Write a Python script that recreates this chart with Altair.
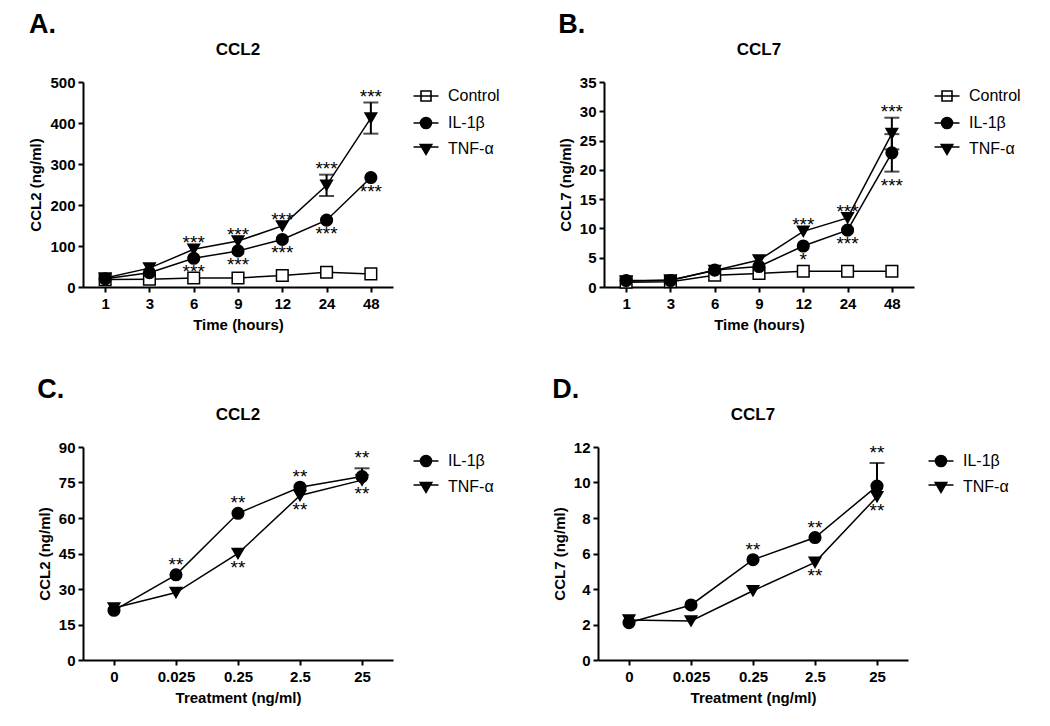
import altair as alt
import pandas as pd

FONT = "Liberation Sans"
SERIES = ["Control", "IL-1β", "TNF-α"]

# ---------------- Panel A: CCL2 time course ----------------
a_x = ["1", "3", "6", "9", "12", "24", "48"]
a_control = [18, 19, 22, 22, 28, 36, 32]
a_il1b = [20, 35, 70, 88, 116, 163, 267]
a_tnfa = [22, 46, 92, 112, 149, 248, 412]
a_il1b_err = [0, 0, 0, 0, 0, 0, 0]
a_tnfa_err = [0, 0, 0, 0, 0, 26, 38]
a_il1b_stars = ["", "", "***", "***", "***", "***", "***"]
a_tnfa_stars = ["", "", "***", "***", "***", "***", "***"]

# ---------------- Panel B: CCL7 time course ----------------
b_x = ["1", "3", "6", "9", "12", "24", "48"]
b_control = [0.8, 0.9, 2.0, 2.3, 2.7, 2.7, 2.7]
b_il1b = [1.1, 1.1, 2.9, 3.5, 7.0, 9.7, 22.9]
b_tnfa = [1.0, 1.2, 2.8, 4.6, 9.5, 11.8, 26.2]
b_il1b_err = [0, 0, 0, 0, 0, 0, 3.2]
b_tnfa_err = [0, 0, 0, 0, 0, 0, 2.7]
b_il1b_stars = ["", "", "", "", "*", "***", "***"]
b_tnfa_stars = ["", "", "", "", "***", "***", "***"]

# ---------------- Panel C: CCL2 dose response ----------------
c_x = ["0", "0.025", "0.25", "2.5", "25"]
c_il1b = [21, 36, 62, 73, 77.5]
c_tnfa = [22, 28.5, 45, 69.5, 76]
c_il1b_err_up = [0, 0, 0, 0, 3.5]
c_tnfa_err_up = [0, 0, 0, 0, 0]
c_il1b_stars = ["", "**", "**", "**", "**"]
c_tnfa_stars = ["", "", "**", "**", "**"]

# ---------------- Panel D: CCL7 dose response ----------------
d_x = ["0", "0.025", "0.25", "2.5", "25"]
d_il1b = [2.1, 3.1, 5.65, 6.9, 9.8]
d_tnfa = [2.25, 2.2, 3.9, 5.5, 9.2]
d_il1b_err_up = [0, 0, 0, 0, 1.3]
d_tnfa_err_up = [0, 0, 0, 0, 0]
d_il1b_stars = ["", "", "**", "**", "**"]
d_tnfa_stars = ["", "", "", "**", "**"]

SHAPES = {"Control": "square", "IL-1β": "circle", "TNF-α": "triangle-down"}
FILLS = {"Control": "white", "IL-1β": "black", "TNF-α": "black"}
LEGEND_PATHS = {
    "Control": "M-2.5,0H2.5M-1,-1H1V1H-1Z",
    "IL-1β": "M-2.5,0H2.5M-1.1,0A1.1,1.1 0 1,0 1.1,0A1.1,1.1 0 1,0 -1.1,0Z",
    "TNF-α": "M-2.5,-0.4H2.5M-1.15,-0.9L1.15,-0.9L0,1.1Z",
}


def build_df(xs, series_vals):
    rows = []
    for name, vals, up, dn, stars, pos in series_vals:
        for i, (xv, v, eu, ed, s) in enumerate(zip(xs, vals, up, dn, stars)):
            rows.append({"x": xv, "xi": i, "series": name, "value": v,
                         "err": eu + ed, "hi": v + eu, "lo": v - ed,
                         "star": s, "pos": pos})
    return pd.DataFrame(rows)


def panel(df, xs, series, ytitle, xtitle, ymax, ystep, title, label, height, above_dy):
    ticks = [ystep * k for k in range(int(round(ymax / ystep)) + 1)]
    x = alt.X("x:O", sort=xs, title=xtitle,
              scale=alt.Scale(type="point", padding=0.5),
              axis=alt.Axis(labelAngle=0, titlePadding=6, labelPadding=4))
    yscale = alt.Scale(domain=[0, ymax], nice=False, zero=True)
    yaxis = alt.Axis(values=ticks, titlePadding=6, labelPadding=3)

    def Y(field):
        return alt.Y(field, title=ytitle, scale=yscale, axis=yaxis)

    base = alt.Chart(df)
    lines = base.mark_line(color="black", strokeWidth=1.5).encode(
        x=x, y=Y("value:Q"), detail="series:N", order="xi:Q")
    eb = base.transform_filter("datum.err > 0")
    rule = eb.mark_rule(color="black", strokeWidth=2).encode(
        x=x, y=Y("lo:Q"), y2="hi:Q")
    cap_hi = eb.transform_filter("datum.hi > datum.value").mark_tick(
        color="black", thickness=2, size=15, orient="horizontal").encode(x=x, y=Y("hi:Q"))
    cap_lo = eb.transform_filter("datum.lo < datum.value").mark_tick(
        color="black", thickness=2, size=15, orient="horizontal").encode(x=x, y=Y("lo:Q"))
    leg = alt.Legend(
        title=None, orient="right", offset=19, padding=6,
        labelFont=FONT, labelFontSize=16, labelColor="black",
        symbolSize=100, labelOffset=14, rowPadding=9,
        symbolStrokeWidth=1.6, symbolOpacity=1)
    legend_layer = base.mark_point(filled=True, opacity=0, size=100, strokeWidth=1.6).encode(
        x=x, y=Y("value:Q"),
        shape=alt.Shape("series:N", legend=leg,
                        scale=alt.Scale(domain=series, range=[LEGEND_PATHS[s] for s in series])),
        fill=alt.Fill("series:N", legend=leg,
                      scale=alt.Scale(domain=series, range=[FILLS[s] for s in series])),
        stroke=alt.Stroke("series:N", legend=leg,
                          scale=alt.Scale(domain=series, range=["black"] * len(series))),
    )
    pts = base.mark_point(filled=True, size=135, stroke="black", strokeWidth=1.5,
                          opacity=1, fillOpacity=1).encode(
        x=x, y=Y("value:Q"),
        shape=alt.Shape("series:N", legend=None,
                        scale=alt.Scale(domain=series, range=[SHAPES[s] for s in series])),
        fill=alt.Fill("series:N", legend=None,
                      scale=alt.Scale(domain=series, range=[FILLS[s] for s in series])),
    )
    above = base.transform_filter("datum.pos == 'above' && datum.star != ''").mark_text(
        font=FONT, fontSize=19, baseline="alphabetic", dy=above_dy, color="black").encode(
        x=x, y=Y("hi:Q"), text="star:N")
    below = base.transform_filter("datum.pos == 'below' && datum.star != ''").mark_text(
        font=FONT, fontSize=19, baseline="top", dy=5, color="black").encode(
        x=x, y=Y("lo:Q"), text="star:N")
    layered = alt.layer(lines, rule, cap_hi, cap_lo, legend_layer, pts, above, below).resolve_scale(
        shape="independent", fill="independent", stroke="independent").properties(
        width=310, height=height,
        title=alt.TitleParams(title, font=FONT, fontSize=17, fontWeight="bold",
                              anchor="middle", offset=16, color="black"))
    return alt.vconcat(layered, title=alt.TitleParams(
        label, font=FONT, fontSize=27, fontWeight="bold", anchor="start",
        offset=2, color="black"))


z7 = [0] * 7
z5 = [0] * 5
dfA = build_df(a_x, [("Control", a_control, z7, z7, [""] * 7, "above"),
                     ("IL-1β", a_il1b, a_il1b_err, a_il1b_err, a_il1b_stars, "below"),
                     ("TNF-α", a_tnfa, a_tnfa_err, a_tnfa_err, a_tnfa_stars, "above")])
dfB = build_df(b_x, [("Control", b_control, z7, z7, [""] * 7, "above"),
                     ("IL-1β", b_il1b, b_il1b_err, b_il1b_err, b_il1b_stars, "below"),
                     ("TNF-α", b_tnfa, b_tnfa_err, b_tnfa_err, b_tnfa_stars, "above")])
dfC = build_df(c_x, [("IL-1β", c_il1b, c_il1b_err_up, z5, c_il1b_stars, "above"),
                     ("TNF-α", c_tnfa, c_tnfa_err_up, z5, c_tnfa_stars, "below")])
dfD = build_df(d_x, [("IL-1β", d_il1b, d_il1b_err_up, z5, d_il1b_stars, "above"),
                     ("TNF-α", d_tnfa, d_tnfa_err_up, z5, d_tnfa_stars, "below")])

pA = panel(dfA, a_x, SERIES, "CCL2 (ng/ml)", "Time (hours)", 500, 100, "CCL2", "A.", 205, 0)
pB = panel(dfB, b_x, SERIES, "CCL7 (ng/ml)", "Time (hours)", 35, 5, "CCL7", "B.", 205, 0)
pC = panel(dfC, c_x, ["IL-1β", "TNF-α"], "CCL2 (ng/ml)", "Treatment (ng/ml)", 90, 15, "CCL2", "C.", 213, -4)
pD = panel(dfD, d_x, ["IL-1β", "TNF-α"], "CCL7 (ng/ml)", "Treatment (ng/ml)", 12, 2, "CCL7", "D.", 213, -4)

ind = dict(shape="independent", fill="independent", stroke="independent")
pA = pA.resolve_scale(**ind)
pB = pB.resolve_scale(**ind)
pC = pC.resolve_scale(**ind)
pD = pD.resolve_scale(**ind)
row1 = alt.hconcat(pA, pB, spacing=52).resolve_scale(**ind)
row2 = alt.hconcat(pC, pD, spacing=52).resolve_scale(**ind)

chart = alt.vconcat(row1, row2, spacing=44).resolve_scale(**ind).properties(
    padding={"left": 20, "top": 3, "right": 5, "bottom": 5}
).configure_view(stroke=None).configure_axis(
    domainColor="black", domainWidth=2, tickColor="black", tickWidth=2, tickSize=5,
    labelFont=FONT, labelFontSize=15, labelFontWeight="bold", labelColor="black",
    titleFont=FONT, titleFontSize=15, titleFontWeight="bold", titleColor="black",
    grid=False
)

chart.save("out.html", embed_options={"renderer": "svg", "actions": False})
